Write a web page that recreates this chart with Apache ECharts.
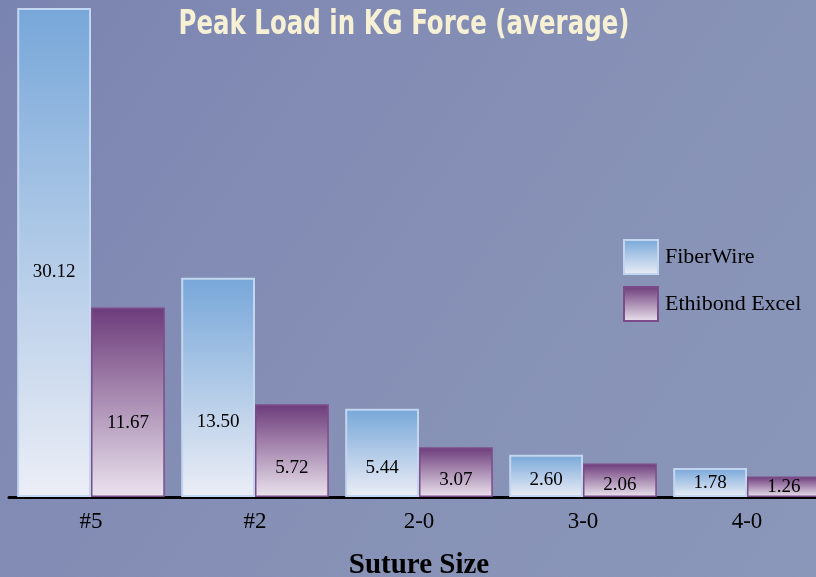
<!DOCTYPE html>
<html>
<head>
<meta charset="utf-8">
<script src="https://cdn.jsdelivr.net/npm/echarts@6/dist/echarts.min.js"></script>
<style>html,body{margin:0;padding:0;}#c{width:816px;height:577px;}</style>
</head>
<body>
<div id="c"></div>
<script>
var categories = ['#5', '#2', '2-0', '3-0', '4-0'];
var fiberWire = [30.12, 13.50, 5.44, 2.60, 1.78];
var ethibond = [11.67, 5.72, 3.07, 2.06, 1.26];
var seriesNames = ['FiberWire', 'Ethibond Excel'];
var titleText = 'Peak Load in KG Force (average)';
var axisTitle = 'Suture Size';

// label lift (px above baseline) — styling only
var liftA = [225, 75, 29, 17, 14];
var liftB = [74, 29, 17, 12, 10];

var serif = "'Liberation Serif', 'Times New Roman', serif";

function grad(top, bottom) {
  return new echarts.graphic.LinearGradient(0, 0, 0, 1, [
    {offset: 0, color: top}, {offset: 1, color: bottom}
  ]);
}

function makeData(vals, lifts) {
  return vals.map(function (v, i) {
    return {
      value: v,
      label: {
        position: ['50%', '100%'],
        offset: [0, -lifts[i]],
        align: 'center',
        verticalAlign: 'middle'
      }
    };
  });
}

var chart = echarts.init(document.getElementById('c'), null, {renderer: 'canvas'});
chart.setOption({
  animation: false,
  backgroundColor: new echarts.graphic.LinearGradient(0, 0, 1, 1, [
    {offset: 0, color: '#7a84b0'},
    {offset: 0.5, color: '#8690b6'},
    {offset: 1, color: '#8a97b9'}
  ]),
  graphic: [{
    type: 'text',
    x: 404,
    y: 25,
    scaleX: 0.8,
    z: 100,
    style: {
      text: titleText,
      align: 'center',
      verticalAlign: 'middle',
      fill: '#f6f0d4',
      font: "bold 34px 'DejaVu Sans Condensed', sans-serif",
      shadowColor: 'rgba(40,40,70,0.55)',
      shadowBlur: 4,
      shadowOffsetX: 2,
      shadowOffsetY: 3
    }
  }],
  legend: {
    orient: 'vertical',
    left: 623,
    top: 239,
    padding: 0,
    itemWidth: 34,
    itemHeight: 34,
    itemGap: 11,
    icon: 'rect',
    textStyle: {color: '#000', fontFamily: serif, fontSize: 22, padding: [14, 0, 0, 2]},
    data: seriesNames
  },
  grid: {left: 9, top: 8, right: -13, bottom: 80, outerBoundsMode: 'none', containLabel: false},
  xAxis: {
    type: 'category',
    data: categories,
    name: axisTitle,
    nameLocation: 'middle',
    nameGap: 54,
    nameTextStyle: {color: '#000', fontFamily: serif, fontWeight: 'bold', fontSize: 29},
    axisLine: {lineStyle: {color: '#000', width: 3}},
    axisTick: {show: false},
    axisLabel: {color: '#000', fontFamily: serif, fontSize: 23, margin: 13}
  },
  yAxis: {
    type: 'value', min: 0, max: 30.12, show: false,
    splitLine: {show: false}
  },
  series: [
    {
      name: seriesNames[0],
      type: 'bar',
      barGap: '0%',
      barCategoryGap: '10%',
      data: makeData(fiberWire, liftA),
      itemStyle: {
        color: grad('#77a7d9', '#eceef6'),
        borderColor: '#c2d6ef',
        borderWidth: 2
      },
      label: {show: true, color: '#000', fontFamily: serif, fontSize: 19,
        formatter: function (p) { return p.value.toFixed(2); }}
    },
    {
      name: seriesNames[1],
      type: 'bar',
      barGap: '0%',
      barCategoryGap: '10%',
      data: makeData(ethibond, liftB),
      itemStyle: {
        color: grad('#6c3b7a', '#ebe3ee'),
        borderColor: '#7c4c8a',
        borderWidth: 1.5
      },
      label: {show: true, color: '#000', fontFamily: serif, fontSize: 19,
        formatter: function (p) { return p.value.toFixed(2); }}
    }
  ]
});
</script>
</body>
</html>
